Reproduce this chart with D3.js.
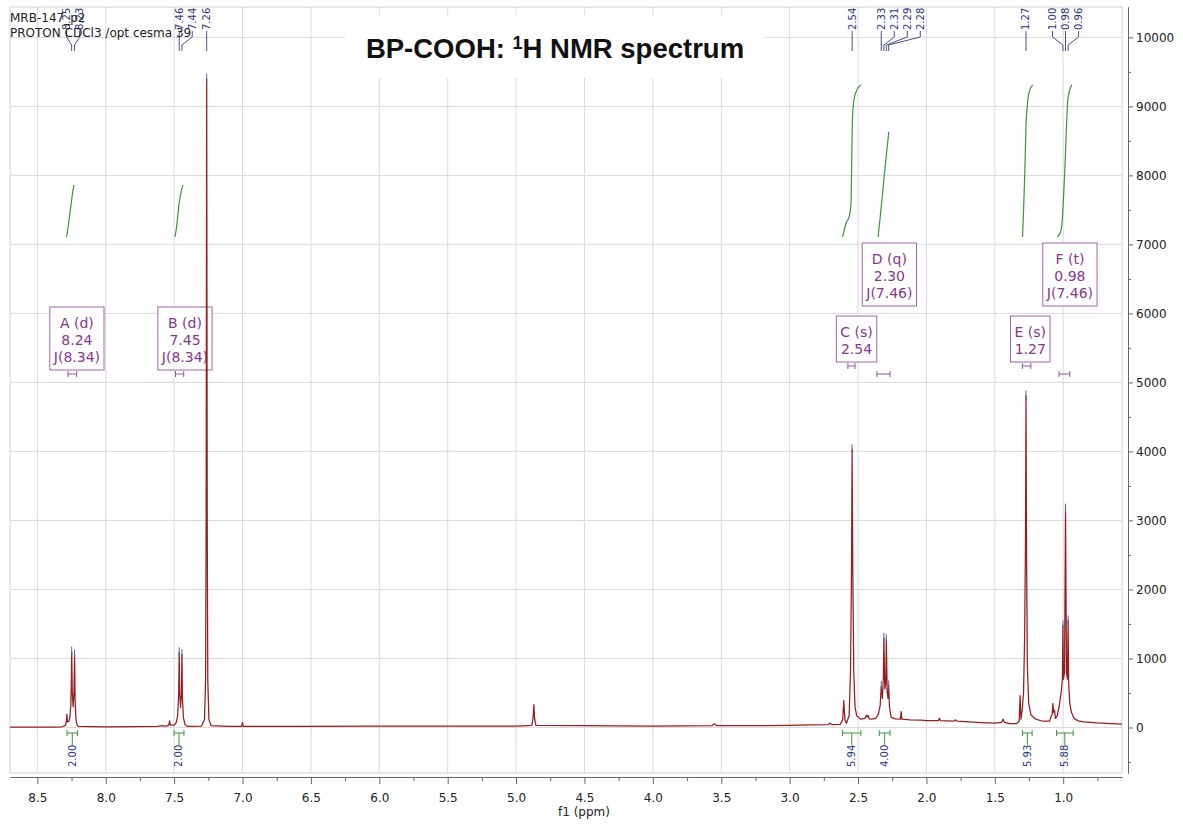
<!doctype html>
<html lang="en">
<head>
<meta charset="utf-8">
<title>BP-COOH 1H NMR spectrum</title>
<script src="https://d3js.org/d3.v7.min.js"></script>
<style>
  body { margin: 0; background: #fff; }
  svg { display: block; font-family: "DejaVu Sans", sans-serif; }
  .axis .domain, .axis line { stroke: #666; }
  .axis text { font-family: "DejaVu Sans", sans-serif; font-size: 12px; fill: #222; }
</style>
</head>
<body>
<div id="chart"></div>
<script>
// ---- data ----
// spectrum trace: [ppm, intensity]
const spectrum = [
  [8.70, 4], [8.55, 6], [8.40, 6], [8.32, 10], [8.295, 30], [8.288, 90], [8.284, 190], [8.280, 80],
  [8.270, 90], [8.262, 150], [8.255, 330], [8.252, 600], [8.249, 1100], [8.245, 520], [8.2385, 300],
  [8.232, 520], [8.228, 1060], [8.224, 400], [8.218, 120], [8.210, 35], [8.20, 15], [8.00, 10],
  [7.80, 12], [7.62, 14], [7.59, 25], [7.56, 18], [7.54, 30], [7.533, 95], [7.527, 35], [7.50, 35],
  [7.485, 70], [7.474, 170], [7.467, 480], [7.463, 1090], [7.459, 480], [7.453, 290], [7.447, 480],
  [7.443, 1060], [7.439, 420], [7.432, 140], [7.42, 40], [7.40, 15], [7.30, 18], [7.278, 120],
  [7.270, 700], [7.266, 3000], [7.262, 9400], [7.258, 3000], [7.254, 700], [7.246, 120], [7.23, 25],
  [7.10, 15], [7.006, 15], [7.000, 70], [6.994, 15], [6.60, 15], [6.00, 18], [5.50, 18], [5.00, 20],
  [4.885, 30], [4.876, 120], [4.870, 330], [4.864, 120], [4.855, 30], [4.50, 25], [4.00, 20],
  [3.565, 28], [3.550, 55], [3.535, 28], [3.30, 25], [3.00, 30], [2.85, 38], [2.72, 40], [2.705, 62],
  [2.69, 42], [2.63, 45], [2.612, 110], [2.604, 390], [2.596, 110], [2.585, 60], [2.565, 170],
  [2.555, 800], [2.548, 2200], [2.543, 4030], [2.538, 2200], [2.531, 800], [2.522, 300], [2.51, 170],
  [2.48, 120], [2.45, 130], [2.438, 175], [2.432, 150], [2.426, 175], [2.418, 125], [2.40, 120],
  [2.37, 130], [2.35, 200], [2.338, 320], [2.330, 600], [2.322, 420], [2.315, 700], [2.311, 1300],
  [2.304, 560], [2.297, 640], [2.293, 1280], [2.287, 520], [2.281, 420], [2.276, 610], [2.270, 300],
  [2.258, 150], [2.23, 125], [2.19, 120], [2.185, 230], [2.179, 120], [2.12, 110], [2.04, 105],
  [2.00, 100], [1.912, 100], [1.905, 135], [1.898, 100], [1.80, 90], [1.787, 110], [1.775, 90],
  [1.60, 70], [1.50, 62], [1.45, 75], [1.44, 120], [1.43, 75], [1.39, 55], [1.34, 55], [1.322, 90],
  [1.315, 460], [1.309, 120], [1.300, 250], [1.290, 500], [1.282, 1300], [1.276, 2600], [1.272, 4810],
  [1.268, 2600], [1.262, 900], [1.252, 350], [1.235, 180], [1.20, 120], [1.15, 90], [1.10, 90],
  [1.088, 160], [1.080, 200], [1.075, 350], [1.070, 220], [1.063, 250], [1.057, 130], [1.045, 160],
  [1.030, 300], [1.015, 500], [1.006, 700], [1.002, 1480], [0.998, 700], [0.990, 800], [0.983, 3170],
  [0.976, 800], [0.969, 700], [0.964, 1550], [0.960, 650], [0.952, 350], [0.940, 220], [0.92, 130],
  [0.89, 95], [0.85, 80], [0.75, 65], [0.65, 55], [0.57, 50]
];

// picked peaks (labels on top)
const peakPpm = [8.249, 8.228, 7.463, 7.443, 7.262, 2.543, 2.330, 2.311, 2.293, 2.276, 1.272, 1.002, 0.983, 0.964];

// integrals
const integralRanges = [[8.283, 8.206], [7.501, 7.428], [2.613, 2.479], [2.345, 2.266], [1.297, 1.227], [1.049, 0.927]];
const integralValues = ["2.00", "2.00", "5.94", "4.00", "5.93", "5.88"];
const integralCurveA = [[8.286, 7108], [8.276, 7238], [8.254, 7572], [8.239, 7789], [8.232, 7862]];
const integralCurveB = [[7.494, 7108], [7.483, 7238], [7.465, 7572], [7.446, 7789], [7.435, 7862]];
const integralCurveC = [[2.613, 7108], [2.584, 7325], [2.565, 7398], [2.552, 7572], [2.547, 8079], [2.541, 8804], [2.530, 9094], [2.508, 9239], [2.479, 9311]];
const integralCurveD = [[2.353, 7108], [2.340, 7354], [2.318, 7789], [2.304, 8079], [2.289, 8369], [2.275, 8630]];
const integralCurveE = [[1.297, 7108], [1.291, 7427], [1.280, 8079], [1.273, 8659], [1.258, 9094], [1.244, 9239], [1.222, 9311]];
const integralCurveF = [[1.044, 7108], [1.019, 7180], [1.007, 7354], [0.995, 7789], [0.988, 8079], [0.977, 8659], [0.966, 9094], [0.952, 9239], [0.937, 9311]];

// multiplets
const multipletNames = ["A (d)", "B (d)", "C (s)", "D (q)", "E (s)", "F (t)"];
const multipletShifts = [8.24, 7.45, 2.54, 2.30, 1.27, 0.98];
const multipletJ = ["8.34", "8.34", null, "7.46", null, "7.46"];
const multipletRanges = [[8.276, 8.213], [7.490, 7.430], [2.574, 2.522], [2.362, 2.266], [1.299, 1.236], [1.030, 0.952]];

// axes
const xTicks = [8.5, 8.0, 7.5, 7.0, 6.5, 6.0, 5.5, 5.0, 4.5, 4.0, 3.5, 3.0, 2.5, 2.0, 1.5, 1.0];
const xMinorTicks = [8.25, 7.75, 7.25, 6.75, 6.25, 5.75, 5.25, 4.75, 4.25, 3.75, 3.25, 2.75, 2.25, 1.75, 1.25, 0.75];
const yTicks = [0, 1000, 2000, 3000, 4000, 5000, 6000, 7000, 8000, 9000, 10000];
const yMinorTicks = [-500, 500, 1500, 2500, 3500, 4500, 5500, 6500, 7500, 8500, 9500];

// ---- chart ----
const W = 1183, H = 826;
const svg = d3.select("#chart").append("svg").attr("width", W).attr("height", H);

const x = d3.scaleLinear().domain([8.70, 0.57]).range([10, 1122]);
const y = d3.scaleLinear().domain([-660, 10440]).range([773, 7]);

const navy = "#2c3480", green = "#3d953d", purple = "#86378c";

// frame and grid
svg.append("rect").attr("x", 10).attr("y", 7).attr("width", 1112).attr("height", 766)
  .attr("fill", "none").attr("stroke", "#d2d2d2");
svg.append("g").selectAll("line").data(xTicks).join("line")
  .attr("x1", d => x(d)).attr("x2", d => x(d)).attr("y1", 7).attr("y2", 773)
  .attr("stroke", "#dadada");
svg.append("g").selectAll("line").data(yTicks).join("line")
  .attr("x1", 10).attr("x2", 1122).attr("y1", d => y(d)).attr("y2", d => y(d))
  .attr("stroke", "#dadada");

// title box
svg.append("rect").attr("x", 345).attr("y", 15).attr("width", 420).attr("height", 63).attr("fill", "#fff");
const title = svg.append("text").attr("x", 555).attr("y", 58).attr("text-anchor", "middle")
  .attr("font-family", "'Liberation Sans', Arial, sans-serif").attr("font-weight", "bold")
  .attr("font-size", "27.5px").attr("fill", "#111");
title.append("tspan").text("BP-COOH: ");
title.append("tspan").attr("font-size", "18px").attr("dy", -9).text("1");
title.append("tspan").attr("dy", 9).text("H NMR spectrum");

// multiplet boxes
const boxTop = [307, 307, 316, 243, 316, 243];
const hMarkY = [374, 374, 366, 374, 366, 374];
multipletNames.forEach((name, i) => {
  const lines = [name, multipletShifts[i].toFixed(2)];
  if (multipletJ[i]) lines.push(`J(${multipletJ[i]})`);
  const cx = x(multipletShifts[i]) + 4;
  const g = svg.append("g");
  const rect = g.append("rect");
  const texts = g.selectAll("text").data(lines).join("text")
    .attr("x", cx).attr("y", (d, k) => boxTop[i] + 16 + k * 17).attr("dy", "0.35em")
    .attr("text-anchor", "middle").attr("font-size", "14px").attr("fill", purple)
    .text(d => d);
  let wMax = 0;
  texts.each(function () { wMax = Math.max(wMax, this.getComputedTextLength()); });
  const bw = wMax + 8;
  rect.attr("x", cx - bw / 2).attr("y", boxTop[i]).attr("width", bw).attr("height", lines.length * 17 + 12)
    .attr("fill", "#fff").attr("stroke", "#a266a6").attr("stroke-width", 1);
  rect.lower();
  const [a, b] = multipletRanges[i];
  svg.append("path")
    .attr("d", `M${x(a)},${hMarkY[i] - 3}V${hMarkY[i] + 3}M${x(a)},${hMarkY[i]}H${x(b)}M${x(b)},${hMarkY[i] - 3}V${hMarkY[i] + 3}`)
    .attr("stroke", "#8a5a9c").attr("fill", "none");
});

// integral curves
const curveLine = d3.line().x(d => x(d[0])).y(d => y(d[1])).curve(d3.curveMonotoneX);
[integralCurveA, integralCurveB, integralCurveC, integralCurveD, integralCurveE, integralCurveF].forEach(c => {
  svg.append("path").attr("d", curveLine(c)).attr("fill", "none").attr("stroke", green).attr("stroke-width", 1.2);
});

// spectrum
const specLine = d3.line().x(d => x(d[0])).y(d => y(d[1]));
svg.append("path").datum(spectrum).attr("d", specLine)
  .attr("fill", "none").attr("stroke", "#951f1f").attr("stroke-width", 1.25).attr("stroke-linejoin", "round");

// peak markers and labels
const labelLayout = [[0, 1, "center"], [2, 3, "start"], [4, 4, "start"], [5, 5, "start"],
  [6, 9, "start"], [10, 10, "start"], [11, 13, "center"]];
const labelX = [];
labelLayout.forEach(([i0, i1, align]) => {
  const xs = d3.range(i0, i1 + 1).map(i => x(peakPpm[i]));
  const gap = 13;
  const start = align === "center" ? d3.mean(xs) - gap * (xs.length - 1) / 2 : xs[0];
  xs.forEach((_, k) => { labelX[i0 + k] = start + k * gap; });
});
peakPpm.forEach((p, i) => {
  const xp = x(p), xl = labelX[i];
  const h = spectrum.find(s => Math.abs(s[0] - p) < 1e-9)[1];
  svg.append("line").attr("x1", xp).attr("x2", xp).attr("y1", y(h) - 5).attr("y2", y(h) + 4)
    .attr("stroke", "#5862a6");
  svg.append("path").attr("d", `M${xl},31V37L${xp},45V51`).attr("fill", "none").attr("stroke", "#4a5090");
  svg.append("text").attr("transform", `translate(${xl + 3.5},30) rotate(-90)`)
    .attr("font-size", "10px").attr("fill", navy).text(p.toFixed(2));
});

// integral brackets and values
integralRanges.forEach(([a, b], i) => {
  const xa = x(a), xb = x(b), xc = (xa + xb) / 2;
  svg.append("path")
    .attr("d", `M${xa},730V736M${xa},733H${xb}M${xb},730V736M${xc},733V745`)
    .attr("fill", "none").attr("stroke", green);
  svg.append("text").attr("transform", `translate(${xc + 3.5},767) rotate(-90)`)
    .attr("font-size", "10px").attr("fill", navy).text(integralValues[i]);
});

// axes
svg.append("g").attr("class", "axis").attr("transform", "translate(0,777)")
  .call(d3.axisBottom(x).tickValues(xTicks).tickFormat(d3.format(".1f")).tickSize(7).tickSizeOuter(0).tickPadding(9));
svg.append("g").attr("class", "axis").attr("transform", "translate(0,777)")
  .call(d3.axisBottom(x).tickValues(xMinorTicks).tickFormat("").tickSize(4).tickSizeOuter(0));
svg.append("g").attr("class", "axis").attr("transform", "translate(1128,0)")
  .call(d3.axisRight(y).tickValues(yTicks).tickFormat(d3.format("d")).tickSize(5).tickPadding(3).tickSizeOuter(0));
svg.append("g").attr("class", "axis").attr("transform", "translate(1128,0)")
  .call(d3.axisRight(y).tickValues(yMinorTicks).tickFormat("").tickSize(3).tickSizeOuter(0));

svg.append("text").attr("x", 584).attr("y", 816).attr("text-anchor", "middle")
  .attr("font-size", "12px").attr("fill", "#222").text("f1 (ppm)");

// experiment info, top left
svg.append("text").attr("x", 10).attr("y", 22).attr("font-size", "12px").attr("fill", "#222").text("MRB-147_p2");
svg.append("text").attr("x", 10).attr("y", 37).attr("font-size", "12px").attr("fill", "#222").text("PROTON CDCl3 /opt cesma 39");
</script>
</body>
</html>
